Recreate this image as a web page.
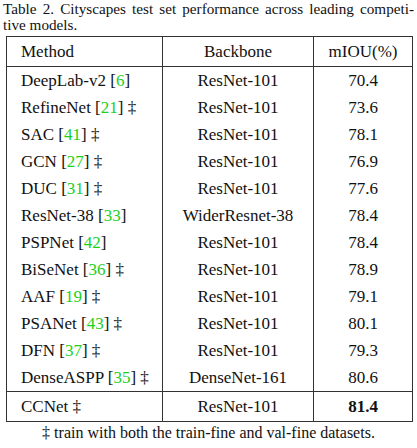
<!DOCTYPE html>
<html><head><meta charset="utf-8">
<script src="https://cdn.jsdelivr.net/npm/chart.js@4"></script>
<style>
*{font-family:"Liberation Serif","Times New Roman",Tinos,"DejaVu Serif",serif}
body{margin:0;width:417px;height:448px;background:#fff;color:#111;overflow:hidden}
#cap{position:absolute;left:3px;top:1px;width:411px;font-size:15.2px;line-height:16px}
table{position:absolute;left:6px;top:36px;width:407px;border-collapse:collapse;font-size:17px}
td{border-left:1px solid #333;border-right:1px solid #333;height:27px;padding:0;line-height:27px}
td.a{padding-left:14px;width:141px}
td.b{text-align:center;width:150px}
td.c{text-align:center}
tr.h td{border-top:1.5px solid #333;border-bottom:1px solid #333;height:29px}
tr.last td{border-top:1px solid #333;border-bottom:1.5px solid #333;height:29px}
.g{color:#1bd11b}
#foot{position:absolute;left:0;width:417px;top:424px;text-align:center;font-size:16px}
</style></head><body>
<div id="cap"></div>
<table id="t"></table>
<div id="foot">‡ train with both the train-fine and val-fine datasets.</div>
<script>
const headers=["Method","Backbone","mIOU(%)"];
const methods=["DeepLab-v2","RefineNet","SAC","GCN","DUC","ResNet-38","PSPNet","BiSeNet","AAF","PSANet","DFN","DenseASPP","CCNet"];
const refs=["6","21","41","27","31","33","42","36","19","43","37","35",""];
const dagger=[false,true,true,true,true,false,false,true,true,true,true,true,true];
const backbones=["ResNet-101","ResNet-101","ResNet-101","ResNet-101","ResNet-101","WiderResnet-38","ResNet-101","ResNet-101","ResNet-101","ResNet-101","ResNet-101","DenseNet-161","ResNet-101"];
const miou=[70.4,73.6,78.1,76.9,77.6,78.4,78.4,78.9,79.1,80.1,79.3,80.6,81.4];
document.getElementById('cap').innerHTML='<div style="text-align:justify;text-align-last:justify">Table 2. Cityscapes test set performance across leading competi-</div><div>tive models.</div>';
const t=document.getElementById('t');
let h='<tr class="h">'+headers.map((x,i)=>`<td class="${'abc'[i]}">${x}</td>`).join('')+'</tr>';
methods.forEach((m,i)=>{
  const last=i===methods.length-1;
  let name=m+(refs[i]?` [<span class="g">${refs[i]}</span>]`:'')+(dagger[i]?' ‡':'');
  let v=miou[i].toFixed(1);
  if(last)v='<b>'+v+'</b>';
  h+=`<tr${last?' class="last"':''}><td class="a">${name}</td><td class="b">${backbones[i]}</td><td class="c">${v}</td></tr>`;
});
t.innerHTML=h;
</script>
</body></html>
